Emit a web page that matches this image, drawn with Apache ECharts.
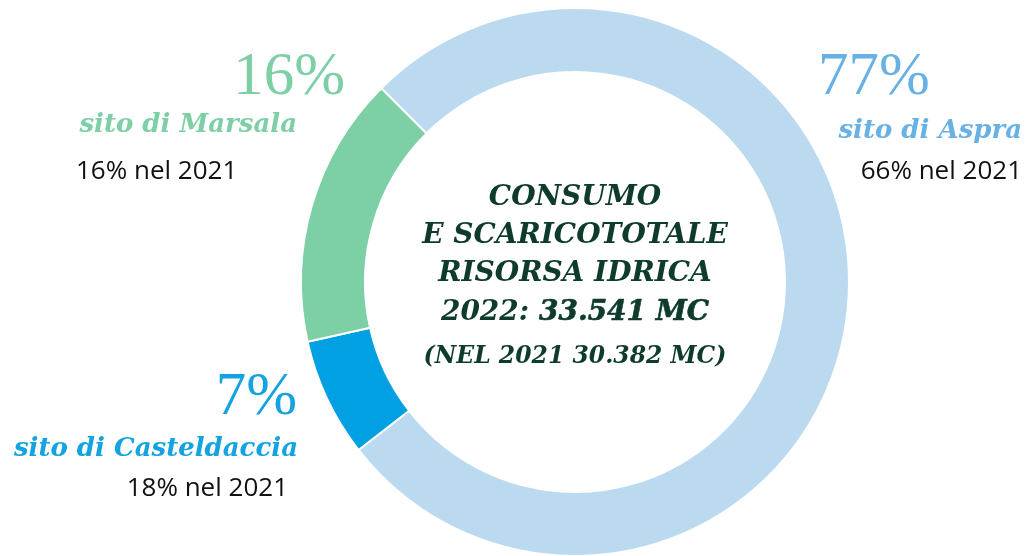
<!DOCTYPE html>
<html>
<head>
<meta charset="utf-8">
<script src="https://cdn.jsdelivr.net/npm/echarts@6/dist/echarts.min.js"></script>
<style>
html,body{margin:0;padding:0;background:#fff;}
#chart{width:1029px;height:556px;}
</style>
</head>
<body>
<div id="chart"></div>
<script>
// dati
var sites = ['sito di Aspra', 'sito di Casteldaccia', 'sito di Marsala'];
var share2022 = [77, 7, 16];
var share2021 = [66, 18, 16];
var centerLines = ['CONSUMO', 'E SCARICOTOTALE', 'RISORSA IDRICA'];
var totalYear = '2022:';
var totalValue = '33.541 MC';
var prevTotal = '(NEL 2021 30.382 MC)';

var ringColors = ['#bbdaf0', '#00a0e3', '#7dcfa6'];
var labelColors = ['#68b1e4', '#13a3e1', '#7dcfa6'];

// posizione delle etichette (pct, nome, 2021)
var labelPos = [
  {pct:[818, 78, 'left'], name:[1022, 131, 'right'], prev:[1022, 172, 'right']},
  {pct:[297, 398, 'right'], name:[298, 449, 'right'], prev:[288, 489, 'right']},
  {pct:[345, 78, 'right'], name:[297, 125, 'right'], prev:[76, 172, 'left']}
];

var serif = '"Liberation Serif", "DejaVu Serif", serif';
var wideSerif = '"DejaVu Serif", serif';
var sans = '"Open Sans", "Noto Sans", sans-serif';

var graphics = [];
for (var i = 0; i < sites.length; i++) {
  var p = labelPos[i];
  graphics.push({
    type: 'text', x: p.pct[0], y: p.pct[1],
    style: {text: share2022[i] + '%', font: 'normal 400 61px ' + serif, fill: labelColors[i], align: p.pct[2], verticalAlign: 'middle'}
  });
  graphics.push({
    type: 'text', x: p.name[0], y: p.name[1],
    style: {text: sites[i], font: 'italic bold 26px ' + wideSerif, fill: labelColors[i], align: p.name[2], verticalAlign: 'middle'}
  });
  graphics.push({
    type: 'text', x: p.prev[0], y: p.prev[1],
    style: {text: share2021[i] + '% nel 2021', font: 'normal 400 26px ' + sans, fill: '#111', align: p.prev[2], verticalAlign: 'middle'}
  });
}

var centerY = [198, 236, 274];
for (var j = 0; j < centerLines.length; j++) {
  graphics.push({
    type: 'text', x: 575, y: centerY[j],
    style: {text: centerLines[j], font: 'italic bold 28px ' + wideSerif, fill: '#0e3b2e', align: 'center', verticalAlign: 'middle'}
  });
}
graphics.push({
  type: 'text', x: 575, y: 313,
  style: {
    text: '{a|' + totalYear + '\u00a0}{b|' + totalValue + '}',
    align: 'center', verticalAlign: 'middle',
    rich: {
      a: {font: 'italic bold 28px ' + wideSerif, fill: '#0e3b2e'},
      b: {font: 'italic 900 28px ' + wideSerif, fill: '#0e3b2e', textStrokeWidth: 0.6, stroke: '#0e3b2e'}
    }
  }
});
graphics.push({
  type: 'text', x: 575, y: 357,
  style: {text: prevTotal, font: 'italic bold 23.5px ' + wideSerif, fill: '#0e3b2e', align: 'center', verticalAlign: 'middle'}
});

var chart = echarts.init(document.getElementById('chart'));
chart.setOption({
  animation: false,
  color: ringColors,
  graphic: graphics,
  series: [{
    type: 'pie',
    center: [575, 282],
    radius: [210, 274],
    startAngle: 135,
    clockwise: true,
    label: {show: false},
    labelLine: {show: false},
    itemStyle: {borderColor: '#fff', borderWidth: 2},
    emphasis: {disabled: true},
    data: sites.map(function (s, k) {
      return {name: s, value: share2022[k]};
    })
  }]
});
</script>
</body>
</html>
